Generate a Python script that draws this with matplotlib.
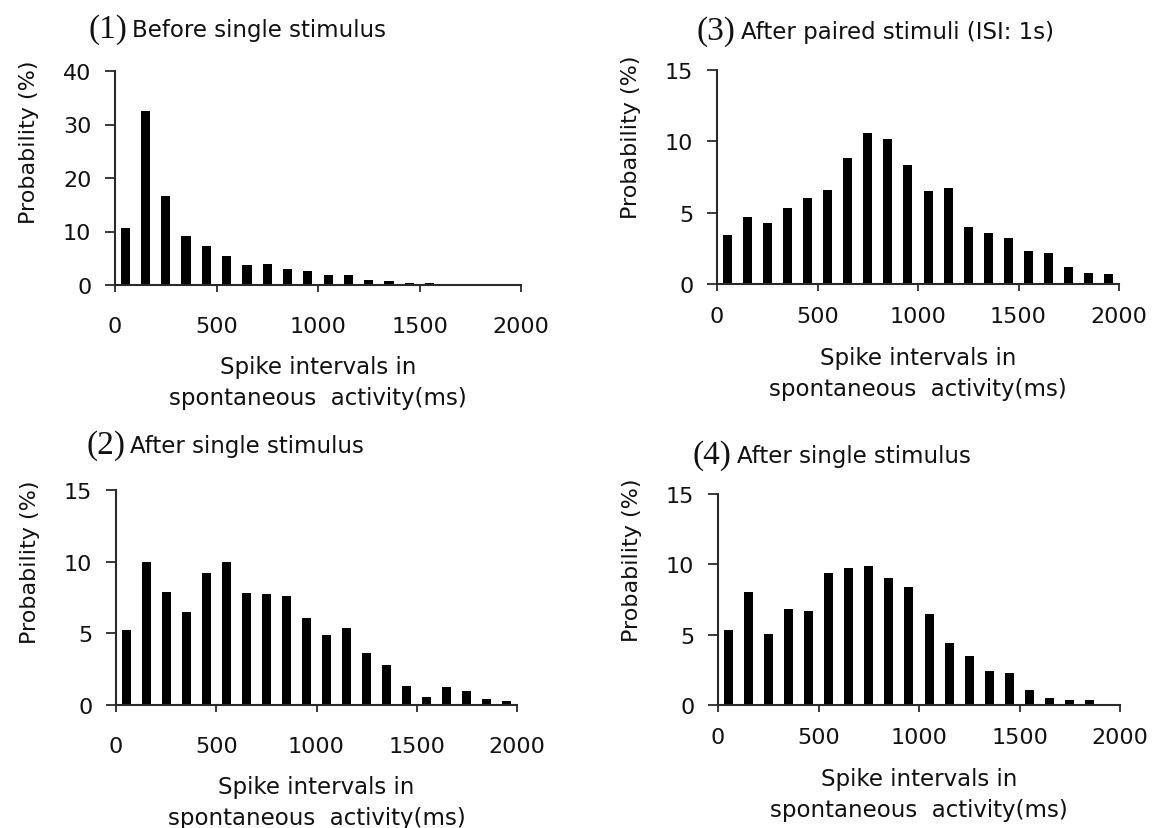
import numpy as np
import matplotlib.pyplot as plt

plt.rcParams['font.family'] = ['DejaVu Sans']

# bin centres (ms) shared by all four histograms
bins = [50, 150, 250, 350, 450, 550, 650, 750, 850, 950,
        1050, 1150, 1250, 1350, 1450, 1550, 1650, 1750, 1850, 1950]

before_single = [10.6, 32.5, 16.6, 9.2, 7.3, 5.4, 3.8, 4.0, 2.9, 2.7,
                 1.8, 1.8, 0.9, 0.7, 0.3, 0.3, 0, 0, 0, 0]
after_single = [5.2, 9.95, 7.9, 6.5, 9.2, 10.0, 7.8, 7.75, 7.6, 6.1,
                4.9, 5.4, 3.6, 2.8, 1.3, 0.55, 1.25, 0.95, 0.45, 0.28]
after_paired = [3.45, 4.7, 4.3, 5.3, 6.05, 6.6, 8.85, 10.55, 10.15, 8.35,
                6.5, 6.75, 4.0, 3.6, 3.25, 2.3, 2.2, 1.2, 0.78, 0.7]
after_single_b = [5.3, 8.0, 5.05, 6.8, 6.7, 9.4, 9.75, 9.9, 9.05, 8.4,
                  6.5, 4.4, 3.5, 2.4, 2.3, 1.05, 0.5, 0.33, 0.33, 0]

W, H = 1161, 829
fig = plt.figure(figsize=(W / 100, H / 100), dpi=100)
TXT = '#111111'


def panel(box, values, ymax, yticks, num, title, title_xy, label_y, xpad):
    l, t, r, b = box
    ax = fig.add_axes([l / W, 1 - b / H, (r - l) / W, (b - t) / H])
    ax.bar(bins, values, width=45, color='black')
    ax.set_xlim(0, 2000)
    ax.set_ylim(0, ymax)
    ax.set_xticks([0, 500, 1000, 1500, 2000])
    ax.set_yticks(yticks)
    for s in ['top', 'right']:
        ax.spines[s].set_visible(False)
    for s in ['left', 'bottom']:
        ax.spines[s].set_color('#2a2a2a')
        ax.spines[s].set_linewidth(1.5)
    ax.tick_params(axis='x', direction='out', length=5, width=1.3,
                   color='#2a2a2a', labelsize=16, pad=xpad, labelcolor=TXT)
    ax.tick_params(axis='y', direction='out', length=7, width=1.3,
                   color='#2a2a2a', labelsize=16, pad=10, labelcolor=TXT)
    ax.set_ylabel('Probability (%)', fontsize=16, labelpad=17, color=TXT,
                  y=label_y)
    ax.set_xlabel('Spike intervals in\nspontaneous  activity(ms)',
                  fontsize=16.5, labelpad=14, linespacing=1.45, color=TXT)
    tx, ty = title_xy
    fig.text(tx / W, 1 - ty / H, num, family='Liberation Serif',
             fontsize=24, va='center', ha='left', color=TXT)
    fig.text((tx + 44) / W, 1 - (ty + 1) / H, title, fontsize=16.5,
             va='center', ha='left', color=TXT)
    return ax


panel((115, 72, 521, 286), before_single, 40, [0, 10, 20, 30, 40],
      '(1)', 'Before single stimulus', (88, 30), 0.67, 17)
panel((116, 491, 517, 706), after_single, 15, [0, 5, 10, 15],
      '(2)', 'After single stimulus', (86, 446), 0.67, 17)
panel((717, 71, 1119, 285), after_paired, 15, [0, 5, 10, 15],
      '(3)', 'After paired stimuli (ISI: 1s)', (697, 32), 0.69, 11)
panel((718, 495, 1120, 706), after_single_b, 15, [0, 5, 10, 15],
      '(4)', 'After single stimulus', (693, 456), 0.69, 11)

fig.savefig('out.png', dpi=100)
